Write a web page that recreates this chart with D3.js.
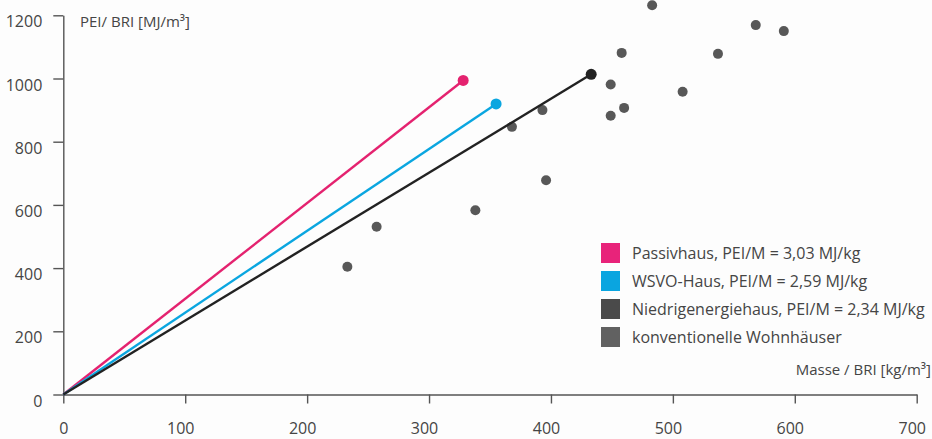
<!DOCTYPE html>
<html>
<head>
<meta charset="utf-8">
<script src="https://cdn.jsdelivr.net/npm/d3@7"></script>
<style>
  html, body { margin: 0; padding: 0; background: #fdfdfd; }
  svg { display: block; font-family: "Open Sans", "Noto Sans", sans-serif; }
</style>
</head>
<body>
<svg id="chart" width="932" height="439"></svg>
<script>
// Building types: mass per enclosed volume (end of line) and embodied energy ratio PEI/M
const buildingTypes = ["Passivhaus", "WSVO-Haus", "Niedrigenergiehaus"];
const buildingMass = [328, 355, 433];          // kg/m³
const buildingRatio = [3.03, 2.59, 2.34];      // MJ/kg
const buildingColors = ["#e4226f", "#0aa6e0", "#222222"];

// Conventional residential buildings: mass/BRI and PEI/BRI
const convMass = [483, 568, 591, 458, 537, 449, 508, 460, 449, 393, 368, 396, 338, 257, 233];
const convPEI  = [1232, 1169, 1150, 1081, 1078, 981, 958, 907, 882, 900, 847, 678, 583, 531, 404];
const convColor = "#585858";

const xTicks = [0, 100, 200, 300, 400, 500, 600, 700];
const yTicks = [0, 200, 400, 600, 800, 1000, 1200];

const legendLabels = [
  "Passivhaus, PEI/M = 3,03 MJ/kg",
  "WSVO-Haus, PEI/M = 2,59 MJ/kg",
  "Niedrigenergiehaus, PEI/M = 2,34 MJ/kg",
  "konventionelle Wohnhäuser"
];
const legendColors = ["#e8237a", "#0aa5e0", "#4a4a4a", "#616161"];

const svg = d3.select("#chart");
const x = d3.scaleLinear().domain([0, 700]).range([63.3, 916.7]);
const y = d3.scaleLinear().domain([0, 1200]).range([394.5, 15.3]);
const axisColor = "#555";
const textColor = "#454545";
const fmt = d3.format("d");

// x axis
const gx = svg.append("g").attr("transform", `translate(0,${y(0)})`)
  .call(d3.axisBottom(x).tickValues(xTicks).tickFormat(fmt)
    .tickSize(9).tickPadding(19).tickSizeOuter(0));
gx.select(".domain").attr("stroke", axisColor).attr("stroke-width", 1.4);
gx.selectAll(".tick line").attr("stroke", axisColor).attr("stroke-width", 1.4);
gx.selectAll(".tick text").attr("fill", textColor).attr("font-size", 16)
  .attr("font-family", "Open Sans, sans-serif").attr("dx", d => d === 0 ? 0 : -5);

// y axis
const gy = svg.append("g").attr("transform", `translate(${x(0)},0)`)
  .call(d3.axisLeft(y).tickValues(yTicks).tickFormat(fmt)
    .tickSize(10).tickPadding(11).tickSizeOuter(0));
gy.select(".domain").attr("stroke", axisColor).attr("stroke-width", 1.4);
gy.selectAll(".tick line").attr("stroke", axisColor).attr("stroke-width", 1.4);
gy.selectAll(".tick text").attr("fill", textColor).attr("font-size", 16)
  .attr("font-family", "Open Sans, sans-serif").attr("dy", "0.72em");

// axis titles
svg.append("text").attr("x", 80).attr("y", 27).attr("fill", textColor)
  .attr("font-size", 15).text("PEI/ BRI [MJ/m³]");
svg.append("text").attr("x", 931).attr("y", 375).attr("text-anchor", "end")
  .attr("fill", textColor).attr("font-size", 15).text("Masse / BRI [kg/m³]");

// conventional buildings
svg.append("g").selectAll("circle").data(convMass).join("circle")
  .attr("cx", d => x(d)).attr("cy", (d, i) => y(convPEI[i])).attr("r", 5)
  .attr("fill", convColor);

// lines from origin for the three building standards
buildingTypes.forEach((name, i) => {
  const m = buildingMass[i];
  const p = buildingRatio[i] * m;
  svg.append("line")
    .attr("x1", x(0)).attr("y1", y(0)).attr("x2", x(m)).attr("y2", y(p))
    .attr("stroke", buildingColors[i]).attr("stroke-width", 2.4);
  svg.append("circle").attr("cx", x(m)).attr("cy", y(p)).attr("r", 5.5)
    .attr("fill", buildingColors[i]);
});

// legend
const lg = svg.append("g").attr("transform", "translate(601,243)");
legendLabels.forEach((label, i) => {
  const row = lg.append("g").attr("transform", `translate(0,${i * 28})`);
  row.append("rect").attr("width", 19).attr("height", 20).attr("fill", legendColors[i]);
  row.append("text").attr("x", 31).attr("y", 16).attr("fill", textColor)
    .attr("font-size", 16).text(label);
});
</script>
</body>
</html>
